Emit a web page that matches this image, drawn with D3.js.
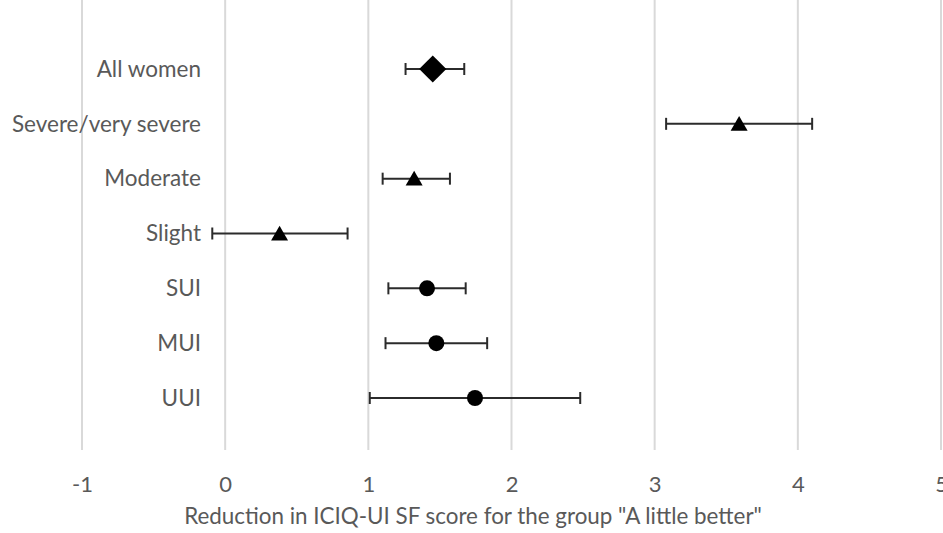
<!DOCTYPE html>
<html>
<head>
<meta charset="utf-8">
<script src="https://cdn.jsdelivr.net/npm/d3@7"></script>
<style>
  body { margin: 0; background: #fff; }
  svg { display: block; font-family: Lato, "Open Sans", sans-serif; }
</style>
</head>
<body>
<div id="chart"></div>
<script>
// values
const groups = ['All women', 'Severe/very severe', 'Moderate', 'Slight', 'SUI', 'MUI', 'UUI'];
const means  = [1.45, 3.59, 1.32, 0.38, 1.41, 1.475, 1.745];
const lower  = [1.26, 3.08, 1.10, -0.09, 1.14, 1.12, 1.01];
const upper  = [1.67, 4.10, 1.57, 0.855, 1.68, 1.83, 2.48];
const shapes = ['diamond', 'triangle', 'triangle', 'triangle', 'circle', 'circle', 'circle'];
const xTicks = [-1, 0, 1, 2, 3, 4, 5];
const xTitle = 'Reduction in ICIQ-UI SF score for the group "A little better"';

const width = 943, height = 533;
const plotTop = 0, plotBottom = 450;

const svg = d3.select('#chart').append('svg')
    .attr('width', width)
    .attr('height', height);

let x = d3.scaleLinear().domain([-1, 5]).range([82, 941]);
let y = d3.scalePoint().domain(groups).range([69, 398]);

// vertical gridlines
svg.append('g').attr('id', 'grid')
  .selectAll('line').data(xTicks).enter().append('line')
    .attr('x1', d => x(d)).attr('x2', d => x(d))
    .attr('y1', plotTop).attr('y2', plotBottom)
    .attr('stroke', '#d9d9d9').attr('stroke-width', 2);

// bottom tick labels (plain hyphen for negatives, like the original)
let xAxis = svg.append('g')
    .attr('transform', 'translate(0,' + plotBottom + ')')
    .call(d3.axisBottom(x).tickValues(xTicks).tickSize(0).tickPadding(26).tickFormat(d => String(d)));
xAxis.select('.domain').remove();
xAxis.selectAll('text')
    .attr('fill', '#595959')
    .style('font-size', '22px')
    .style('font-family', 'Lato, sans-serif');

// category labels
let yAxis = svg.append('g')
    .attr('transform', 'translate(201,0)')
    .call(d3.axisLeft(y).tickSize(0).tickPadding(0));
yAxis.select('.domain').remove();
yAxis.selectAll('text')
    .attr('fill', '#595959')
    .style('font-size', '22.5px')
    .style('font-family', 'Lato, sans-serif');

// axis title
svg.append('text')
    .attr('x', 473).attr('y', 524)
    .attr('text-anchor', 'middle')
    .attr('fill', '#595959')
    .style('font-size', '22.4px')
    .text(xTitle);

const rows = groups.map((g, i) => ({group: g, mean: means[i], lo: lower[i], hi: upper[i], shape: shapes[i]}));

// error bars
let bars = svg.append('g').attr('id', 'errorbars');
let capH = 6;
bars.selectAll('line.bar').data(rows).enter().append('line')
    .attr('class', 'bar')
    .attr('x1', d => x(d.lo)).attr('x2', d => x(d.hi))
    .attr('y1', d => y(d.group)).attr('y2', d => y(d.group))
    .attr('stroke', '#2b2b2b').attr('stroke-width', 2);
bars.selectAll('line.capL').data(rows).enter().append('line')
    .attr('class', 'capL')
    .attr('x1', d => x(d.lo)).attr('x2', d => x(d.lo))
    .attr('y1', d => y(d.group) - capH).attr('y2', d => y(d.group) + capH)
    .attr('stroke', '#2b2b2b').attr('stroke-width', 2);
bars.selectAll('line.capR').data(rows).enter().append('line')
    .attr('class', 'capR')
    .attr('x1', d => x(d.hi)).attr('x2', d => x(d.hi))
    .attr('y1', d => y(d.group) - capH).attr('y2', d => y(d.group) + capH)
    .attr('stroke', '#2b2b2b').attr('stroke-width', 2);

// markers
const symbolFor = {
    diamond: d3.symbol().type(d3.symbolSquare).size(370),
    triangle: d3.symbol().type(d3.symbolTriangle).size(125),
    circle: d3.symbol().type(d3.symbolCircle).size(Math.PI * 64)
};
svg.append('g').attr('id', 'markers')
  .selectAll('path').data(rows).enter().append('path')
    .attr('d', d => symbolFor[d.shape]())
    .attr('transform', d => {
        let t = 'translate(' + x(d.mean) + ',' + y(d.group) + ')';
        if (d.shape === 'diamond') t += ' rotate(45)';
        if (d.shape === 'triangle') t += ' translate(0,2)';
        return t;
    })
    .attr('fill', '#000');
</script>
</body>
</html>
